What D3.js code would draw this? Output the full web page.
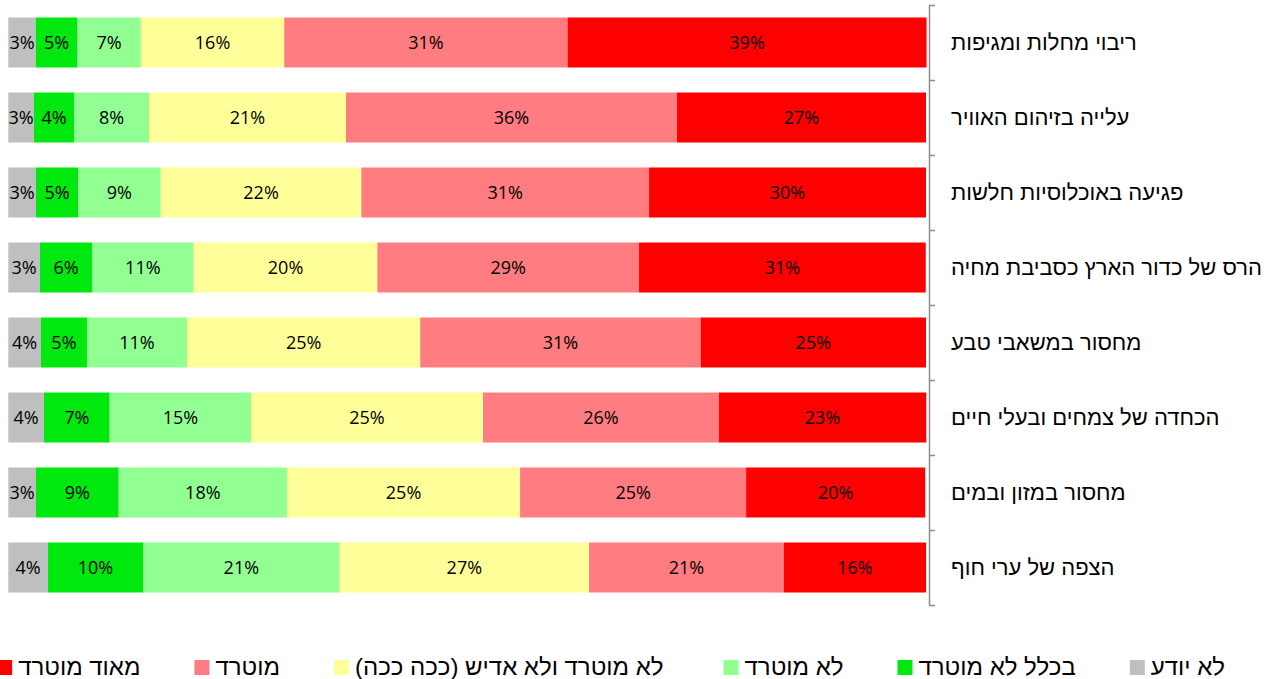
<!DOCTYPE html>
<html>
<head>
<meta charset="utf-8">
<script src="https://cdn.jsdelivr.net/npm/d3@7"></script>
<style>
  body { margin: 0; background: #fff; }
  svg { display: block; }
</style>
</head>
<body>
<div id="chart"></div>
<script>
// categories, top to bottom
const categories = [
  'ריבוי מחלות ומגיפות',
  'עלייה בזיהום האוויר',
  'פגיעה באוכלוסיות חלשות',
  'הרס של כדור הארץ כסביבת מחיה',
  'מחסור במשאבי טבע',
  'הכחדה של צמחים ובעלי חיים',
  'מחסור במזון ובמים',
  'הצפה של ערי חוף'
]

// percent of respondents, left to right in the bar
const dontKnow    = [2.99, 2.80, 3.02, 3.45, 3.56, 3.89, 3.02, 4.33]
const notAtAll    = [4.55, 4.36, 4.58, 5.67, 5.01, 7.16, 9.01, 10.35]
const notWorried  = [6.90, 8.17, 9.01, 11.08, 10.90, 15.40, 18.34, 21.43]
const neutral     = [15.63, 21.47, 21.86, 20.02, 25.42, 25.28, 25.40, 27.17]
const worried     = [30.87, 36.07, 31.35, 28.51, 30.56, 25.70, 24.63, 21.22]
const veryWorried = [39.12, 27.13, 30.18, 31.24, 24.55, 22.60, 19.51, 15.51]

const seriesNames = ['לא יודע', 'בכלל לא מוטרד', 'לא מוטרד', 'לא מוטרד ולא אדיש (ככה ככה)', 'מוטרד', 'מאוד מוטרד']
const seriesValues = [dontKnow, notAtAll, notWorried, neutral, worried, veryWorried]
const seriesColors = ['#bfbfbf', '#00e80e', '#92ff92', '#ffff99', '#ff7c80', '#ff0000']

const width = 1279
const height = 679
const numFont = '"Open Sans", "Liberation Sans", sans-serif'
const hebFont = '"Liberation Sans", "DejaVu Sans", sans-serif'

const table = categories.map((c, i) => {
  const row = { name: c }
  seriesNames.forEach((s, j) => { row[s] = seriesValues[j][i] })
  return row
})

const x = d3.scaleLinear().domain([0, 100]).range([8.3, 926])
const y = d3.scaleBand().domain(categories).range([5, 605]).paddingInner(1 / 3).paddingOuter(1 / 6)
const yEdge = d3.scaleLinear().domain([0, categories.length]).range([5, 605])
const color = d3.scaleOrdinal().domain(seriesNames).range(seriesColors)

const stacked = d3.stack().keys(seriesNames)(table)

const svg = d3.select('#chart')
  .append('svg')
  .attr('width', width)
  .attr('height', height)
  .attr('viewBox', `0 0 ${width} ${height}`)
  .attr('xmlns', 'http://www.w3.org/2000/svg')

const groups = svg.selectAll('g.series')
  .data(stacked)
  .enter()
  .append('g')
  .attr('class', 'series')
  .attr('fill', d => color(d.key))

groups.selectAll('rect')
  .data(d => d)
  .enter()
  .append('rect')
  .attr('x', d => x(d[0]))
  .attr('width', d => x(d[1]) - x(d[0]))
  .attr('y', d => y(d.data.name))
  .attr('height', y.bandwidth())

groups.selectAll('text')
  .data(d => d)
  .enter()
  .append('text')
  .attr('x', d => (x(d[0]) + x(d[1])) / 2)
  .attr('y', d => y(d.data.name) + y.bandwidth() / 2)
  .attr('dy', '0.37em')
  .attr('text-anchor', 'middle')
  .attr('fill', '#000')
  .style('font-family', numFont)
  .style('font-size', '18px')
  .text(d => Math.round(d[1] - d[0]) + '%')

// category axis on the right, ticks between the bars
const axis = svg.append('g')
  .attr('transform', 'translate(929,0)')
  .call(d3.axisRight(yEdge).ticks(categories.length).tickSize(6).tickSizeOuter(0).tickFormat(''))
axis.selectAll('path, line').attr('stroke', '#8c8c8c').attr('stroke-width', 1.5)

svg.append('g')
  .selectAll('text')
  .data(categories)
  .enter()
  .append('text')
  .attr('direction', 'rtl')
  .attr('x', 951)
  .attr('y', d => y(d) + y.bandwidth() / 2)
  .attr('dy', '0.36em')
  .attr('text-anchor', 'end')
  .attr('fill', '#000')
  .style('font-family', hebFont)
  .style('font-size', '22px')
  .text(d => d)

// legend, laid out from the right
const legend = svg.append('g')
let cursor = 1225
seriesNames.forEach((s, i) => {
  const t = legend.append('text')
    .attr('direction', 'rtl')
    .attr('x', cursor)
    .attr('y', 675)
    .attr('text-anchor', 'start')
    .attr('fill', '#000')
    .style('font-family', hebFont)
    .style('font-size', '24px')
    .text(s)
  const w = t.node().getComputedTextLength()
  const sq = cursor - w - 6 - 15
  legend.append('rect')
    .attr('x', sq)
    .attr('y', 660)
    .attr('width', 15)
    .attr('height', 15)
    .attr('fill', color(s))
  cursor = sq - (i === 2 ? 60 : 54)
})
</script>
</body>
</html>
